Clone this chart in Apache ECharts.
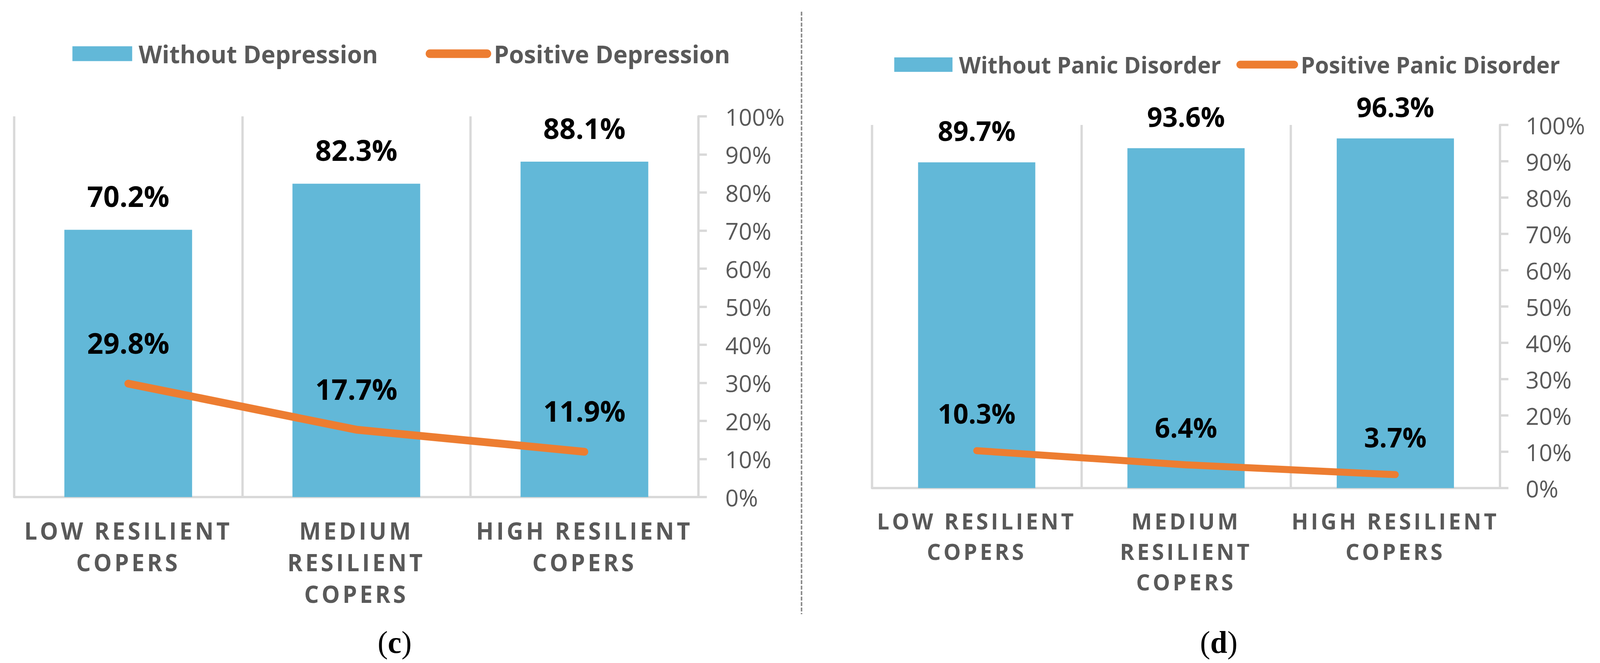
<!DOCTYPE html>
<html>
<head>
<meta charset="utf-8">
<script src="https://cdn.jsdelivr.net/npm/echarts@6/dist/echarts.min.js"></script>
<style>
html,body{margin:0;padding:0;background:#fff;overflow:hidden;}
#chart{width:4176px;height:1698px;transform-origin:0 0;}
</style>
</head>
<body>
<div id="chart"></div>
<script>
// ---- data ----
const categories = ['LOW RESILIENT\nCOPERS', 'MEDIUM\nRESILIENT\nCOPERS', 'HIGH RESILIENT\nCOPERS'];
const withoutDepression = [70.2, 82.3, 88.1];
const positiveDepression = [29.8, 17.7, 11.9];
const withoutPanic = [89.7, 93.6, 96.3];
const positivePanic = [10.3, 6.4, 3.7];
const seriesNames = ['Without Depression', 'Positive Depression', 'Without Panic Disorder', 'Positive Panic Disorder'];
const panelLabels = ['c', 'd'];
const yMin = 0, yMax = 100, yStep = 10;

const BLUE = '#62B8D8';
const ORANGE = '#ED7D31';
const GRID = '#D9D9D9';
const GREY = '#595959';
const SANS = "'Open Sans', 'Noto Sans', sans-serif";
const SERIF = "'Liberation Serif', 'DejaVu Serif', serif";

// fit the 4176x1698 design into the actual viewport
const el = document.getElementById('chart');
const sx = window.innerWidth / 4176, sy = window.innerHeight / 1698;
if (Math.abs(sx - 1) > 0.001 || Math.abs(sy - 1) > 0.001) {
  el.style.transform = 'scale(' + sx + ',' + sy + ')';
}

const chart = echarts.init(el, null, {renderer: 'svg', width: 4176, height: 1698});

function pct(p) { return p.value.toFixed(1) + '%'; }

function xAxis(gi, fs, lh) {
  return {
    type: 'category', gridIndex: gi, data: categories,
    axisLine: {show: true, lineStyle: {color: GRID, width: 6}},
    axisTick: {show: false},
    splitLine: {show: true, lineStyle: {color: GRID, width: 6}},
    axisLabel: {interval: 0, color: GREY, fontFamily: SANS, fontWeight: 'bold', fontSize: fs, lineHeight: lh, margin: 45}
  };
}
function yAxis(gi, fs, margin) {
  return {
    type: 'value', gridIndex: gi, position: 'right', min: yMin, max: yMax, interval: yStep,
    axisLine: {show: true, lineStyle: {color: GRID, width: 6}},
    axisTick: {show: true, length: 22, lineStyle: {color: GRID, width: 6}},
    splitLine: {show: false},
    axisLabel: {color: GREY, fontFamily: SANS, fontSize: fs, margin: margin, formatter: '{value}%'}
  };
}
function barSeries(name, data, gi, fs, dist) {
  return {
    type: 'bar', name: name, data: data, xAxisIndex: gi, yAxisIndex: gi,
    barCategoryGap: '44%', itemStyle: {color: BLUE},
    label: {show: true, position: 'top', distance: dist, formatter: pct, color: '#000', fontFamily: SANS, fontWeight: 'bold', fontSize: fs}
  };
}
function lineSeries(name, data, gi, lw, fs, dist) {
  return {
    type: 'line', name: name, data: data, xAxisIndex: gi, yAxisIndex: gi,
    symbol: 'circle', symbolSize: 1, showSymbol: true, z: 5,
    lineStyle: {color: ORANGE, width: lw, cap: 'round', join: 'round'},
    itemStyle: {color: ORANGE},
    label: {show: true, position: 'top', distance: dist, formatter: pct, color: '#000', fontFamily: SANS, fontWeight: 'bold', fontSize: fs}
  };
}
function barLegend(name, left, top, w, h, fs) {
  return {
    data: [name], left: left, top: top, padding: 0, itemWidth: w, itemHeight: h, selectedMode: false,
    icon: 'rect', itemStyle: {color: BLUE},
    textStyle: {color: GREY, fontFamily: SANS, fontWeight: 'bold', fontSize: fs, padding: [0, 0, 0, 12]}
  };
}
function lineLegend(name, left, top, w, h, fs) {
  const r = h / 2;
  return {
    data: [name], left: left, top: top, padding: 0, itemWidth: w, itemHeight: h, selectedMode: false,
    icon: 'path://M' + r + ',0 L' + (w - r) + ',0 A' + r + ',' + r + ' 0 0 1 ' + (w - r) + ',' + h + ' L' + r + ',' + h + ' A' + r + ',' + r + ' 0 0 1 ' + r + ',0 Z',
    itemStyle: {color: ORANGE},
    textStyle: {color: GREY, fontFamily: SANS, fontWeight: 'bold', fontSize: fs, padding: [0, 0, 0, 2]}
  };
}
function panelText(x, letter) {
  return {type: 'text', x: x, y: 1645, style: {
    text: '({b|' + letter + '})',
    rich: {b: {fontWeight: 'bold', fontSize: 80, fontFamily: SERIF, fill: '#000'}},
    font: '80px ' + SERIF, fill: '#000', align: 'center', verticalAlign: 'middle'}};
}

chart.setOption({
  animation: false,
  backgroundColor: '#fff',
  grid: [
    {left: 37, top: 298, width: 1786, height: 975},
    {left: 2276, top: 320, width: 1639, height: 930}
  ],
  xAxis: [xAxis(0, 60, 81), xAxis(1, 57, 78)],
  yAxis: [yAxis(0, 61, 70), yAxis(1, 61, 67)],
  legend: [
    barLegend(seriesNames[0], 189, 106, 156, 38, 63),
    lineLegend(seriesNames[1], 1111, 106, 171, 22, 63),
    barLegend(seriesNames[2], 2334, 136, 152, 37, 59),
    lineLegend(seriesNames[3], 3227, 136, 161, 20, 59)
  ],
  series: [
    barSeries(seriesNames[0], withoutDepression, 0, 74, 50),
    lineSeries(seriesNames[1], positiveDepression, 0, 20, 74, 68),
    barSeries(seriesNames[2], withoutPanic, 1, 70, 47),
    lineSeries(seriesNames[3], positivePanic, 1, 18, 70, 61)
  ],
  graphic: [
    {type: 'line', shape: {x1: 2092, y1: 30, x2: 2092, y2: 1573}, style: {stroke: '#8C8C8C', lineWidth: 4, lineDash: [10, 4]}},
    panelText(1030, panelLabels[0]),
    panelText(3181, panelLabels[1])
  ]
});

// letter spacing for the category labels (tracked capitals, as in the original)
const catLines = new Set();
categories.forEach(c => c.split('\n').forEach(s => catLines.add(s)));
function applySpacing() {
  document.querySelectorAll('#chart text').forEach(t => {
    if (catLines.has(t.textContent.trim())) {
      t.style.letterSpacing = '7px';
    }
  });
}
chart.on('finished', applySpacing);
applySpacing();
setTimeout(applySpacing, 50);
</script>
</body>
</html>
